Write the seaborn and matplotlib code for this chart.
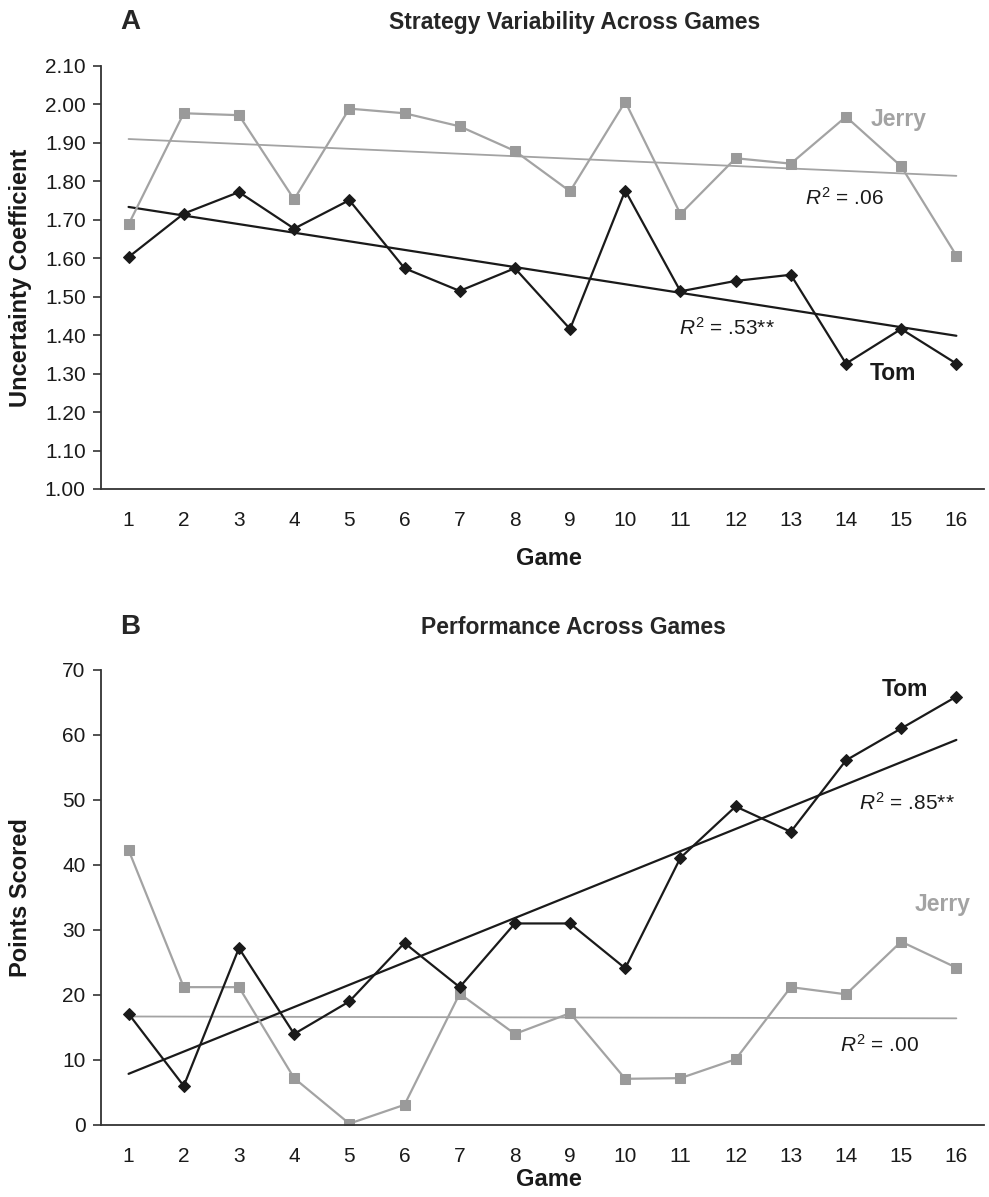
import numpy as np
import matplotlib
matplotlib.use("Agg")
import matplotlib.pyplot as plt
import seaborn as sns

# Data
games = list(range(1, 17))
game_labels = [str(g) for g in games]

tom_uncertainty = [1.603, 1.716, 1.772, 1.677, 1.751, 1.574, 1.515, 1.574,
                   1.416, 1.776, 1.514, 1.541, 1.557, 1.326, 1.416, 1.326]
jerry_uncertainty = [1.688, 1.977, 1.972, 1.753, 1.989, 1.977, 1.943, 1.879,
                     1.774, 2.007, 1.715, 1.860, 1.846, 1.968, 1.839, 1.607]

tom_points = [17.1, 6.0, 27.2, 14.0, 19.0, 28.0, 21.2, 31.0,
              31.0, 24.1, 41.1, 49.0, 45.1, 56.1, 61.0, 65.9]
jerry_points = [42.3, 21.2, 21.2, 7.2, 0.2, 3.1, 20.2, 14.0,
                17.2, 7.1, 7.2, 10.1, 21.2, 20.1, 28.2, 24.2]

uncertainty_ticks = [1.00, 1.10, 1.20, 1.30, 1.40, 1.50, 1.60, 1.70, 1.80, 1.90, 2.00, 2.10]
points_ticks = [0, 10, 20, 30, 40, 50, 60, 70]

# Style
sns.set_style("white")
plt.rcParams['font.family'] = ['Liberation Sans', 'DejaVu Sans']
plt.rcParams['mathtext.fontset'] = 'custom'
plt.rcParams['mathtext.rm'] = 'Liberation Sans'
plt.rcParams['mathtext.it'] = 'Liberation Sans:italic'

TOM = '#1a1a1a'
JERRY = '#a3a3a3'
JERRY_MK = '#9a9a9a'

fig = plt.figure(figsize=(9.89, 11.97), dpi=100)
ax_a = fig.add_axes([0.1021, 0.5915, 0.8928, 0.3534])
ax_b = fig.add_axes([0.1021, 0.0602, 0.8928, 0.3801])


def draw_panel(ax, tom, jerry):
    sns.regplot(x=games, y=jerry, scatter=False, ci=None, color=JERRY,
                line_kws={'linewidth': 1.3}, ax=ax)
    sns.regplot(x=games, y=tom, scatter=False, ci=None, color=TOM,
                line_kws={'linewidth': 1.6}, ax=ax)
    sns.lineplot(x=games, y=jerry, color=JERRY, marker='s', markersize=6.5,
                 markerfacecolor=JERRY_MK, markeredgecolor=JERRY_MK,
                 linewidth=1.6, ax=ax)
    sns.lineplot(x=games, y=tom, color=TOM, marker='D', markersize=6,
                 markerfacecolor=TOM, markeredgecolor=TOM,
                 linewidth=1.6, ax=ax)

    ax.set_xlim(0.5, 16.5)
    ax.set_xticks(games)
    ax.set_xticklabels(game_labels)
    ax.set_xticks(np.arange(0.5, 17, 1), minor=True)
    ax.tick_params(axis='x', which='major', length=0, pad=16, labelsize=15, colors='#1a1a1a')
    ax.tick_params(axis='x', which='minor', length=6, width=1.2, direction='out', color='#333333')
    ax.tick_params(axis='y', which='major', length=6, width=1.2, direction='out',
                   pad=5, labelsize=15, left=True, color='#333333', labelcolor='#1a1a1a')
    sns.despine(ax=ax)
    for side in ['left', 'bottom']:
        ax.spines[side].set_color('#333333')
        ax.spines[side].set_linewidth(1.3)
    ax.set_xlabel('Game', fontsize=17, fontweight='bold', color='#1a1a1a')


# A. Strategy variability
draw_panel(ax_a, tom_uncertainty, jerry_uncertainty)
ax_a.set_ylim(1.0, 2.1)
ax_a.set_yticks(uncertainty_ticks)
ax_a.set_yticklabels([f'{t:.2f}' for t in uncertainty_ticks])
ax_a.set_ylabel('Uncertainty Coefficient', fontsize=17, fontweight='bold', color='#1a1a1a')
ax_a.yaxis.set_label_coords(-0.078, 0.5)
ax_a.xaxis.set_label_coords(0.507, -0.136)

ax_a.text(14.95, 1.962, 'Jerry', color=JERRY, fontsize=16.5, fontweight='bold', ha='center', va='center')
ax_a.text(13.98, 1.756, r'$R^2$ = .06', fontsize=15, color='#1a1a1a', ha='center', va='center')
ax_a.text(11.84, 1.418, r'$R^2$ = .53**', fontsize=15, color='#1a1a1a', ha='center', va='center')
ax_a.text(14.85, 1.30, 'Tom', color=TOM, fontsize=16.5, fontweight='bold', ha='center', va='center')

fig.text(130 / 989, 1 - 22 / 1197, 'A', fontsize=20, fontweight='bold', ha='center', va='center')
fig.text(575 / 989, 1 - 22 / 1197, 'Strategy Variability Across Games', fontsize=16.5,
         fontweight='bold', ha='center', va='center')

# B. Performance
draw_panel(ax_b, tom_points, jerry_points)
ax_b.set_ylim(0, 70)
ax_b.set_yticks(points_ticks)
ax_b.set_yticklabels([str(t) for t in points_ticks])
ax_b.set_ylabel('Points Scored', fontsize=17, fontweight='bold', color='#1a1a1a')
ax_b.yaxis.set_label_coords(-0.078, 0.5)
ax_b.xaxis.set_label_coords(0.507, -0.095)

ax_b.text(15.06, 67.0, 'Tom', color=TOM, fontsize=16.5, fontweight='bold', ha='center', va='center')
ax_b.text(15.1, 49.6, r'$R^2$ = .85**', fontsize=15, color='#1a1a1a', ha='center', va='center')
ax_b.text(15.75, 33.9, 'Jerry', color=JERRY, fontsize=16.5, fontweight='bold', ha='center', va='center')
ax_b.text(14.6, 12.3, r'$R^2$ = .00', fontsize=15, color='#1a1a1a', ha='center', va='center')

fig.text(130 / 989, 1 - 627 / 1197, 'B', fontsize=20, fontweight='bold', ha='center', va='center')
fig.text(573 / 989, 1 - 627 / 1197, 'Performance Across Games', fontsize=16.5,
         fontweight='bold', ha='center', va='center')

plt.savefig('out.png', dpi=100)
